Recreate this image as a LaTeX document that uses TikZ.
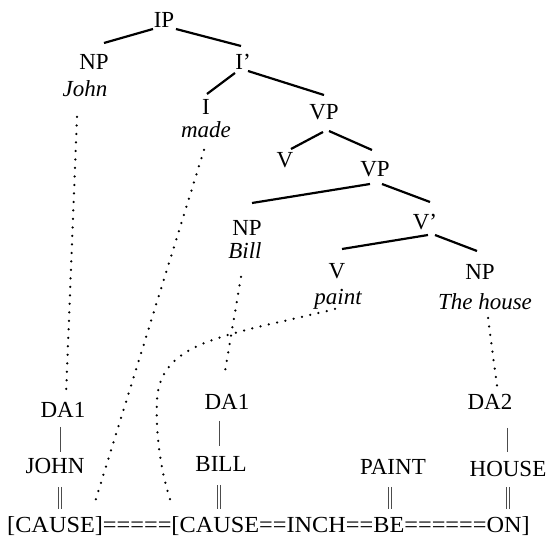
\documentclass[tikz,border=0pt]{standalone}
\usepackage{fontspec}
\setmainfont{Liberation Serif}
\usepackage{graphicx}
\usetikzlibrary{calc}
\begin{document}
\begin{tikzpicture}[x=1pt,y=-1pt,
  lbl/.style={inner sep=0pt, anchor=base, font=\fontsize{23}{27}\selectfont},
  word/.style={lbl, font=\fontsize{23}{27}\selectfont\itshape},
  branch/.style={line width=2.2pt},
  link/.style={line width=2.5pt, line cap=round, dash pattern=on 0pt off 8.5pt},
  bar/.style={line width=1pt, black!70},
  dbar/.style={double=white, double distance=1.8pt, line width=0.8pt, black!70},
]
\useasboundingbox (0,0) rectangle (550,540);
% tree labels
\node[lbl] (IP) at (164,28) {IP};
\node[lbl] (NPa) at (94,70) {NP};
\node[word] (John) at (85,97) {John};
\node[lbl] (Ibar) at (243,70) {I’};
\node[lbl] (I) at (206,115) {I};
\node[word] (made) at (206,138) {made};
\node[lbl] (VPa) at (324,120) {VP};
\node[lbl] (Va) at (285,168) {V};
\node[lbl] (VPb) at (375,177) {VP};
\node[lbl] (NPb) at (247,236) {NP};
\node[word] (Bill) at (245,259) {Bill};
\node[lbl] (Vbar) at (425,230) {V’};
\node[lbl] (Vb) at (337,279) {V};
\node[word] (paint) at (338,305) {paint};
\node[lbl] (NPc) at (480,280) {NP};
\node[word] (house) at (485,310) {The house};
% lower labels
\node[lbl] (DAa) at (63,418) {DA1};
\node[lbl] (DAb) at (227,410) {DA1};
\node[lbl] (DAc) at (490,410) {DA2};
\node[lbl] (JOHN) at (55,474) {JOHN};
\node[lbl] (BILL) at (221,472) {BILL};
\node[lbl] (PAINT) at (393,475) {PAINT};
\node[lbl] (HOUSE) at (508,477) {HOUSE};
\node[lbl, anchor=base west] (bottom) at (7,533) {\scalebox{1.056}[1]{[CAUSE]=====[CAUSE==INCH==BE======ON]}};
% branches
\draw[branch] ($(IP.base)+(-11,1)$) -- ($(NPa.base)+(10,-27)$);
\draw[branch] ($(IP.base)+(12,1)$) -- ($(Ibar.base)+(-2,-24)$);
\draw[branch] ($(Ibar.base)+(-8,3)$) -- ($(I.base)+(1,-21)$);
\draw[branch] ($(Ibar.base)+(5,1)$) -- ($(VPa.base)+(0,-25)$);
\draw[branch] ($(VPa.base)+(-1,12)$) -- ($(Va.base)+(6,-19)$);
\draw[branch] ($(VPa.base)+(5,11)$) -- ($(VPb.base)+(-3,-27)$);
\draw[branch] ($(VPb.base)+(-5,7)$) -- ($(NPb.base)+(5,-33)$);
\draw[branch] ($(VPb.base)+(7,7)$) -- ($(Vbar.base)+(5,-28)$);
\draw[branch] ($(Vbar.base)+(3,5)$) -- ($(Vb.base)+(5,-30)$);
\draw[branch] ($(Vbar.base)+(10,5)$) -- ($(NPc.base)+(-3,-29)$);
% dotted links
\draw[link] ($(John.base)+(-8,20)$) -- ($(DAa.base)+(3,-23)$);
\draw[link] ($(made.base)+(-2,12)$) -- ($(bottom.base west)+(88,-31)$);
\draw[link] ($(Bill.base)+(-4,18)$) -- ($(DAb.base)+(-3,-33)$);
\draw[link] ($(paint.base)+(-3,4)$) .. controls ($(paint.base)+(-108,30)$) and ($(paint.base)+(-178,35)$) .. ($(paint.base)+(-181,95)$)
  .. controls ($(bottom.base west)+(148,-93)$) and ($(bottom.base west)+(156,-53)$) .. ($(bottom.base west)+(165,-28)$);
\draw[link] ($(house.base)+(3,8)$) -- ($(DAc.base)+(7,-24)$);
% bars
\draw[bar] ($(DAa.base)+(-3,9)$) -- ($(JOHN.base)+(5,-22)$);
\draw[bar] ($(DAb.base)+(-8,11)$) -- ($(BILL.base)+(-2,-26)$);
\draw[bar] ($(DAc.base)+(17,18)$) -- ($(HOUSE.base)+(-1,-25)$);
\draw[dbar] ($(JOHN.base)+(5,13)$) -- ($(bottom.base west)+(53,-24)$);
\draw[dbar] ($(BILL.base)+(-2,13)$) -- ($(bottom.base west)+(212,-24)$);
\draw[dbar] ($(PAINT.base)+(-3,12)$) -- ($(bottom.base west)+(383,-24)$);
\draw[dbar] ($(HOUSE.base)+(0,10)$) -- ($(bottom.base west)+(501,-24)$);
\end{tikzpicture}
\end{document}
